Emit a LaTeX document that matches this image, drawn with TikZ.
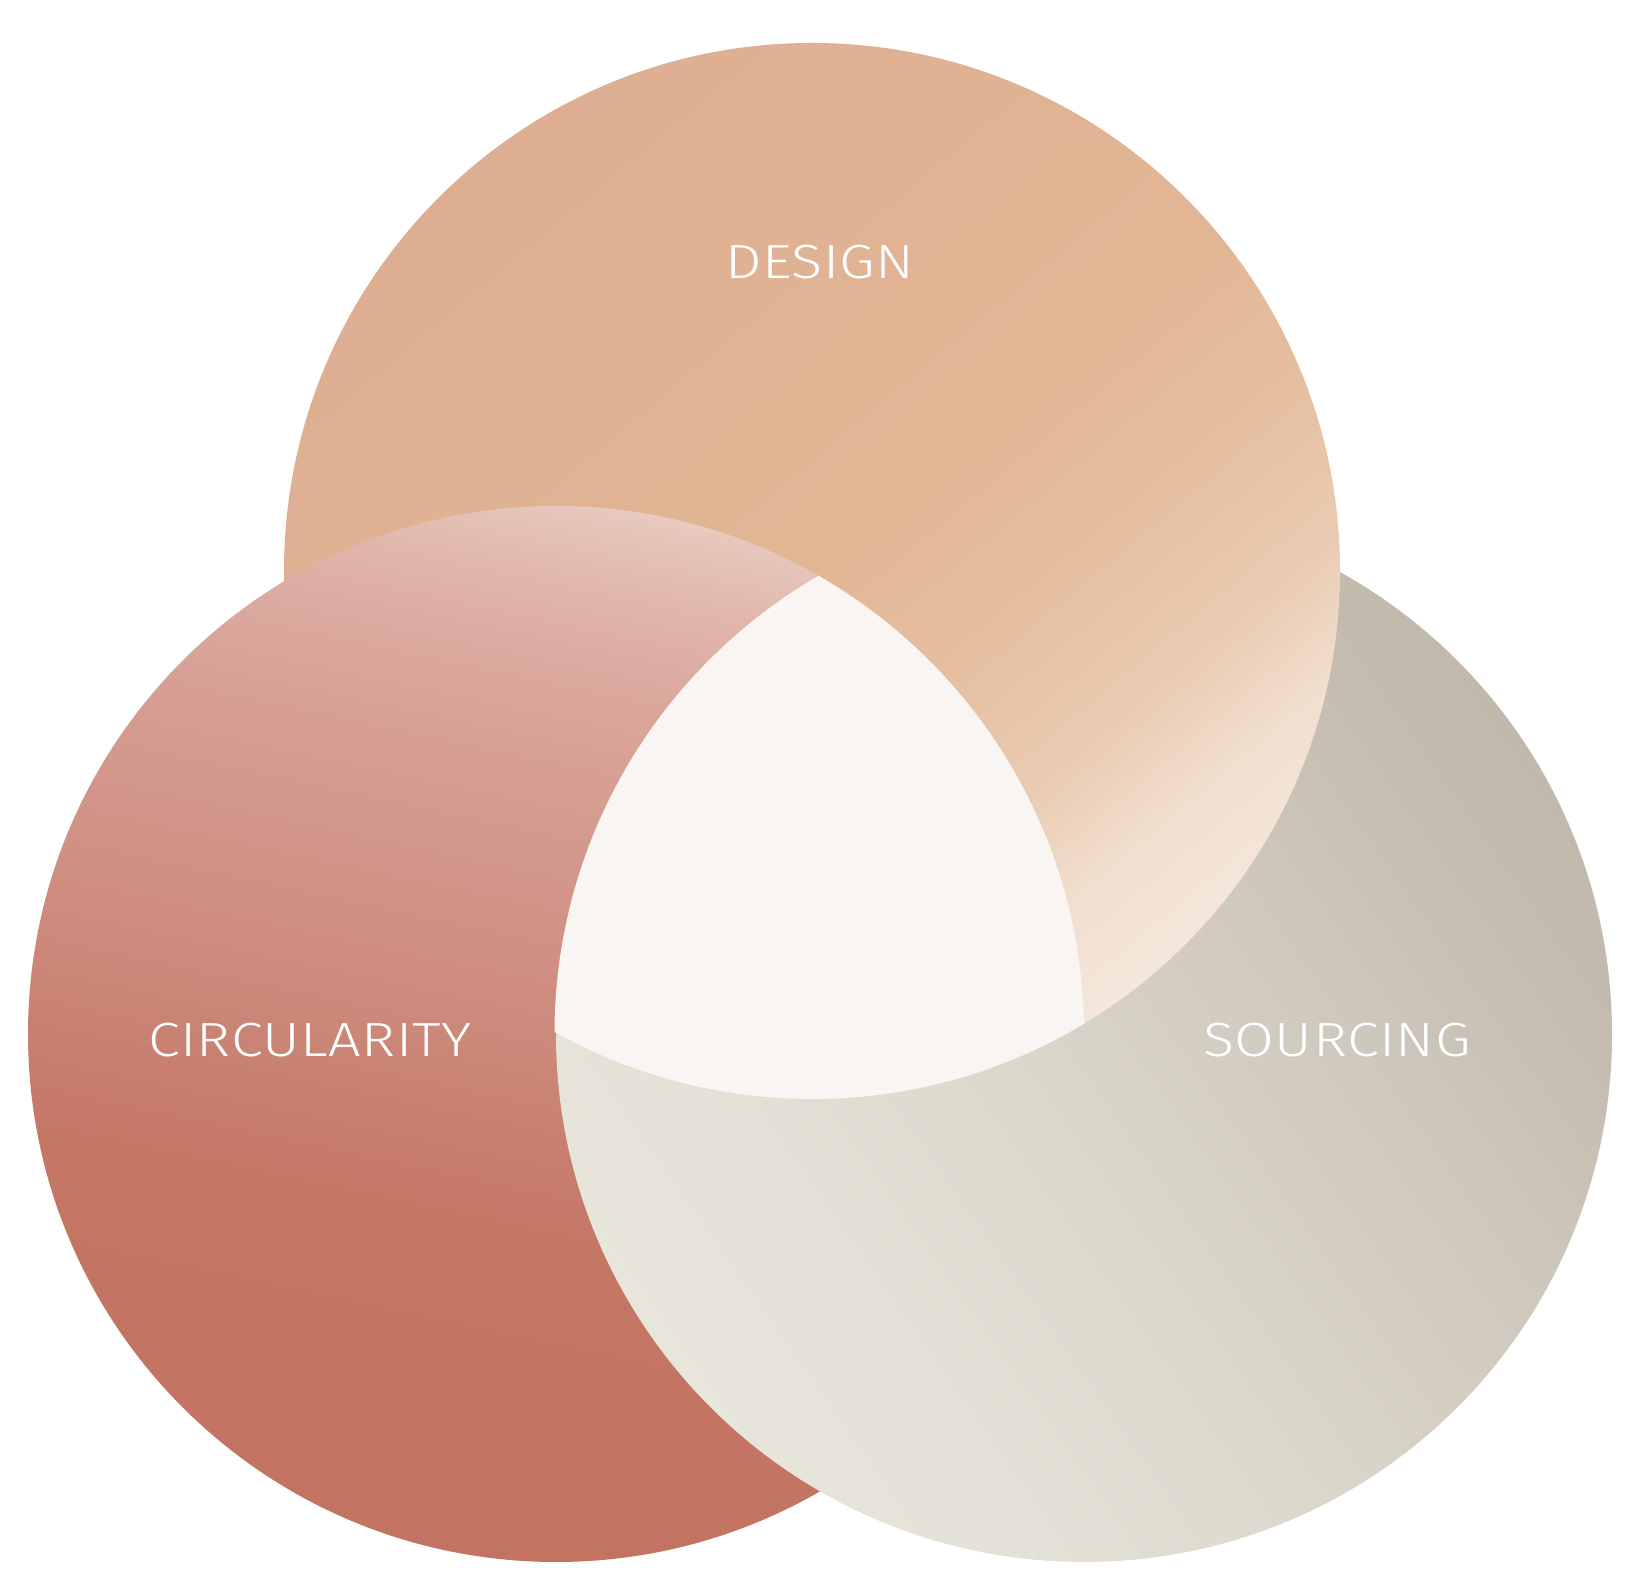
\documentclass[tikz,border=0pt]{standalone}
\usepackage{fontspec}
\newfontfamily\labfont{Fira Sans}[UprightFont={* Light},LetterSpace=1,FakeStretch=1.2]
\definecolor{cream}{HTML}{F9F5F2}
% design
\definecolor{d0}{HTML}{DEAE92}\definecolor{d1}{HTML}{E2B695}\definecolor{d2}{HTML}{E5BE9F}
\definecolor{d3}{HTML}{EACCB3}\definecolor{d4}{HTML}{F1DFCF}\definecolor{d5}{HTML}{F4E7DB}
\pgfdeclarehorizontalshading{designsh}{100bp}{color(0bp)=(d0); color(25bp)=(d0); color(50bp)=(d1); color(57.5bp)=(d2); color(65bp)=(d3); color(70bp)=(d4); color(75bp)=(d5); color(100bp)=(d5)}
% circularity
\definecolor{c0}{HTML}{C37361}\definecolor{c1}{HTML}{C47563}\definecolor{c2}{HTML}{C88070}
\definecolor{c3}{HTML}{CD8A7C}\definecolor{c4}{HTML}{D29488}\definecolor{c5}{HTML}{D79F93}
\definecolor{c6}{HTML}{DCAAA0}\definecolor{c7}{HTML}{E1B8AD}\definecolor{c8}{HTML}{E7C9BD}
\pgfdeclareverticalshading{circsh}{100bp}{color(0bp)=(c0); color(25bp)=(c0); color(39bp)=(c1); color(45bp)=(c2); color(50bp)=(c3); color(56bp)=(c4); color(62.5bp)=(c5); color(67.5bp)=(c6); color(71.5bp)=(c7); color(75bp)=(c8); color(100bp)=(c8)}
% sourcing
\definecolor{s0}{HTML}{E8E5DB}\definecolor{s1}{HTML}{E3E0D5}\definecolor{s2}{HTML}{DBD6CA}
\definecolor{s3}{HTML}{CFC8BC}\definecolor{s4}{HTML}{C4BCAF}\definecolor{s5}{HTML}{C1B9AC}
\pgfdeclarehorizontalshading{soursh}{100bp}{color(0bp)=(s0); color(25bp)=(s0); color(35bp)=(s1); color(47.5bp)=(s2); color(60bp)=(s3); color(70bp)=(s4); color(75bp)=(s5); color(100bp)=(s5)}
\tikzset{
  lab/.style={text=white, font=\labfont\fontsize{48}{50}\selectfont, anchor=base, inner sep=0pt},
  circfill/.style={shading=circsh, shading angle=-12},
  sourfill/.style={shading=soursh, shading angle=35},
  designfill/.style={shading=designsh, shading angle=-50},
}
\begin{document}
\begin{tikzpicture}[x=1pt,y=1pt]
\useasboundingbox (0,0) rectangle (1640,1594);
\fill[white] (0,0) rectangle (1640,1594);
\coordinate (D) at (812,1023);
\coordinate (C) at (556,560);
\coordinate (S) at (1084,560);
\def\R{528}
% circularity
\shade[circfill] (C) circle (\R);
% sourcing over circularity
\shade[sourfill] (S) circle (\R);
% design over sourcing
\shade[designfill] (D) circle (\R);
% circularity over design (clip slightly enlarged to hide seams)
\begin{scope}
  \clip (D) circle (\R+2);
  \begin{scope}[even odd rule]
    \clip (S) circle (\R) (-20,-20) rectangle (1660,1614);
    \shade[circfill] (C) circle (\R);
  \end{scope}
\end{scope}
% triple intersection
\begin{scope}
  \clip (D) circle (\R);
  \clip (C) circle (\R);
  \fill[cream] (S) circle (\R+1.5);
\end{scope}
\node[lab] (tdesign) at (820,1315) {DESIGN};
\node[lab] (tcirc) at (310,537) {CIRCULARITY};
\node[lab] (tsour) at (1337,537) {SOURCING};
\end{tikzpicture}
\end{document}
